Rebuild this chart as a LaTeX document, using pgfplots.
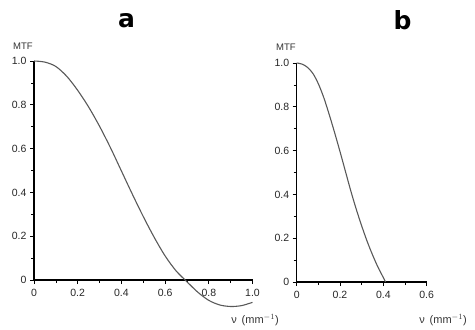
\documentclass[border=0pt]{standalone}
\usepackage{fontspec}
\setmainfont{Liberation Sans}
\newfontfamily\titlefont{DejaVu Sans}
\usepackage{pgfplots}
\pgfplotsset{compat=1.18}
\pgfplotstableread{
x y
0 1.0
0.05 0.995
0.10 0.975
0.15 0.930
0.20 0.866
0.25 0.790
0.30 0.702
0.35 0.604
0.40 0.498
0.45 0.392
0.50 0.290
0.55 0.195
0.60 0.110
0.65 0.042
0.70 -0.008
0.75 -0.056
0.80 -0.093
0.85 -0.114
0.90 -0.121
0.95 -0.117
1.00 -0.102
}\dataA
\pgfplotstableread{
x y
0 1.0
0.025 0.995
0.05 0.98
0.075 0.952
0.10 0.905
0.125 0.842
0.15 0.765
0.175 0.682
0.20 0.595
0.225 0.505
0.25 0.415
0.275 0.332
0.30 0.256
0.325 0.186
0.35 0.124
0.375 0.068
0.40 0.020
0.41 0.0
}\dataB
\pgfplotsset{
  mtf/.style={
    scale only axis, clip=false,
    axis lines=left,
    axis line style={-, line width=1.2pt, black},
    ymin=0, ymax=1,
    ytick={0,0.2,0.4,0.6,0.8,1.0},
    yticklabels={0,0.2,0.4,0.6,0.8,1.0},
    minor y tick num=1,
    minor x tick num=1,
    tick align=outside,
    major tick length=4pt, minor tick length=3pt,
    tick style={black, line width=0.7pt},
    tick label style={font=\fontsize{10.5}{11}\selectfont, text=black!85},
    xticklabel style={yshift=-2pt},
    /pgf/number format/assume math mode=true,
  }
}
\begin{document}
\begin{tikzpicture}[x=1pt,y=1pt]
\path (0,0) rectangle (475,327);
\begin{axis}[mtf,
  at={(34pt,47pt)}, anchor=south west,
  width=218.5pt, height=219pt,
  xmin=0, xmax=1,
  xtick={0,0.2,0.4,0.6,0.8,1.0},
  xticklabels={0,0.2,0.4,0.6,0.8,1.0}]
\addplot[smooth, line width=1.1pt, black!65, no marks] table[x=x,y=y] {\dataA};
\end{axis}
\begin{axis}[mtf,
  at={(296.7pt,45pt)}, anchor=south west,
  width=130pt, height=219pt,
  xmin=0, xmax=0.6,
  xtick={0,0.2,0.4,0.6},
  xticklabels={0,0.2,0.4,0.6}]
\addplot[smooth, line width=1.1pt, black!65, no marks] table[x=x,y=y] {\dataB};
\end{axis}
\node[anchor=base, font=\titlefont\bfseries\fontsize{25}{26}\selectfont] at (126.5,299) {a};
\node[anchor=base, font=\titlefont\bfseries\fontsize{25}{26}\selectfont] at (402.5,297.5) {b};
\node[font=\fontsize{9.5}{10}\selectfont, text=black!80] at (23,281) {MTF};
\node[font=\fontsize{9.5}{10}\selectfont, text=black!80] at (286,280) {MTF};
\node[font=\fontsize{11}{12}\selectfont, text=black!80] at (255,7) {ν \,(mm$^{-1}$)};
\node[font=\fontsize{11}{12}\selectfont, text=black!80] at (443,7) {ν \,(mm$^{-1}$)};
\end{tikzpicture}
\end{document}
